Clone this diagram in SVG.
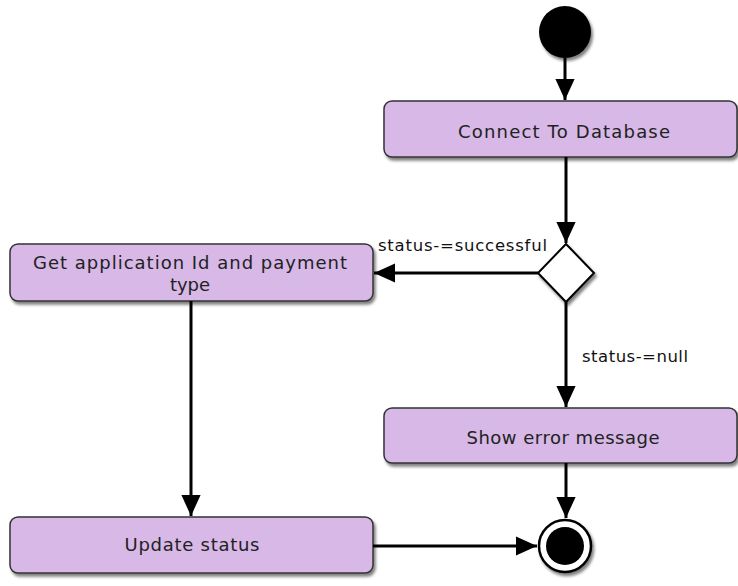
<svg xmlns="http://www.w3.org/2000/svg" width="738" height="586" viewBox="0 0 738 586">
<defs>
<filter id="sh" x="-10%" y="-20%" width="120%" height="150%">
<feGaussianBlur in="SourceAlpha" stdDeviation="1.5"/>
<feOffset dx="2" dy="3" result="b"/>
<feComponentTransfer><feFuncA type="linear" slope="0.5"/></feComponentTransfer>
<feMerge><feMergeNode/><feMergeNode in="SourceGraphic"/></feMerge>
</filter>
<marker id="ah" markerWidth="7" markerHeight="6.4" refX="7" refY="3.2" orient="auto" markerUnits="strokeWidth">
<path d="M0,0 L7,3.2 L0,6.4 Z" fill="#000"/>
</marker>
</defs>
<style>
.box{fill:#D7B8E6;stroke:#333;stroke-width:1.5;filter:url(#sh)}
.t{font-family:"DejaVu Sans",sans-serif;font-size:18px;fill:#222;text-anchor:middle}
.lbl{font-family:"DejaVu Sans",sans-serif;font-size:16.5px;fill:#111}
.c{stroke:#000;stroke-width:3;fill:none;marker-end:url(#ah)}
</style>
<g id="start"><circle cx="565" cy="32" r="26" fill="#000" filter="url(#sh)"/></g>
<g id="connect"><rect class="box" x="384" y="101" width="353" height="56" rx="8"/><text class="t" x="564" y="138" textLength="212">Connect To Database</text></g>
<g id="decision"><polygon points="566,244 594,273 566,302 538,273" fill="#fff" stroke="#000" stroke-width="2" filter="url(#sh)"/></g>
<g id="getapp"><rect class="box" x="10" y="244" width="363" height="57" rx="8"/><text class="t" x="190" y="269" textLength="314">Get application Id and payment</text><text class="t" x="190" y="291">type</text></g>
<g id="showerror"><rect class="box" x="384" y="408" width="353" height="55" rx="8"/><text class="t" x="563" y="444" textLength="193">Show error message</text></g>
<g id="update"><rect class="box" x="10" y="517" width="363" height="56" rx="8"/><text class="t" x="192" y="551" textLength="135">Update status</text></g>
<g id="end"><circle cx="565" cy="546" r="26" fill="#fff" stroke="#000" stroke-width="2.5" filter="url(#sh)"/><circle cx="565" cy="546" r="19" fill="#000"/></g>
<g id="connectors">
<line class="c" x1="565" y1="58" x2="565" y2="100"/>
<line class="c" x1="566" y1="157" x2="566" y2="243"/>
<line class="c" x1="538" y1="273" x2="374" y2="273"/>
<line class="c" x1="566" y1="302" x2="566" y2="407"/>
<line class="c" x1="191" y1="301" x2="191" y2="516"/>
<line class="c" x1="566" y1="463" x2="566" y2="518"/>
<line class="c" x1="373" y1="546" x2="537" y2="546"/>
<text class="lbl" x="378" y="251" textLength="169">status-=successful</text>
<text class="lbl" x="582" y="362" textLength="106">status-=null</text>
</g>
</svg>
